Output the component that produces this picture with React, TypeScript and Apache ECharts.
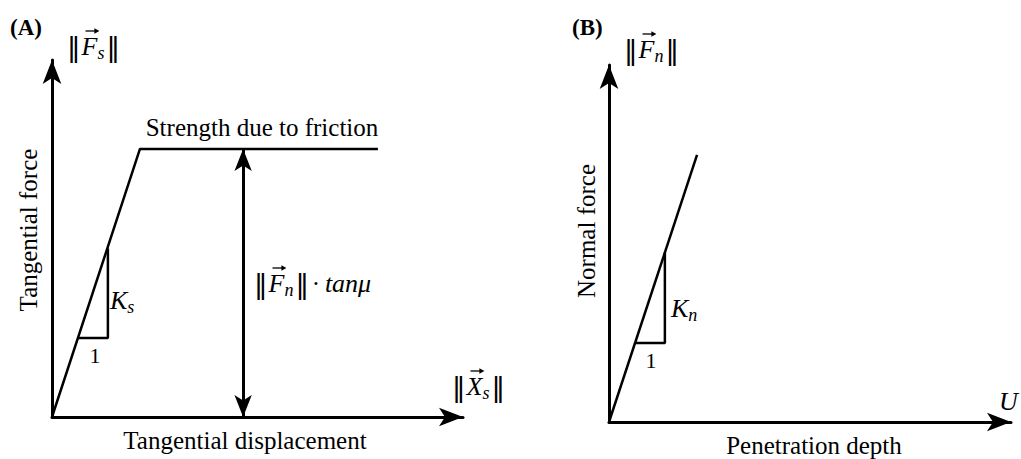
import React, { useEffect, useRef } from "react";
import * as echarts from "echarts";

// Panel A: tangential force vs tangential displacement (schematic units 0..10)
const curveA: number[][] = [[0, 0], [2.14, 7.51], [7.93, 7.51]];
const triangleA: number[][] = [[0.63, 2.21], [1.36, 2.21], [1.36, 4.72]];
const frictionArrowX = 4.65;
const frictionLevel = 7.51;

// Panel B: normal force vs penetration depth
const curveB: number[][] = [[0, 0], [2.19, 7.48]];
const triangleB: number[][] = [[0.67, 2.21], [1.39, 2.21], [1.39, 4.75]];

const axisMin = 0;
const axisMax = 10;

const SERIF = "'Liberation Serif', 'Times New Roman', serif";
const BAR_FONT = "27px 'DejaVu Sans', sans-serif";
const LETTER_FONT = "italic 26px 'Liberation Serif', serif";
const SUB_FONT = "italic 18px 'Liberation Serif', serif";
const PLAIN_MATH_FONT = "25px 'Liberation Serif', serif";

let measureCtx: CanvasRenderingContext2D | null = null;
function measure(text: string, font: string): number {
  if (!measureCtx) measureCtx = document.createElement("canvas").getContext("2d");
  if (!measureCtx) return text.length * 12;
  measureCtx.font = font;
  return measureCtx.measureText(text).width;
}

function axis(gridIndex: number) {
  return {
    gridIndex,
    type: "value",
    min: axisMin,
    max: axisMax,
    axisLine: {
      show: true,
      onZero: false,
      symbol: ["none", "arrow"],
      symbolSize: [14, 24],
      lineStyle: { color: "#000", width: 3 },
    },
    axisTick: { show: false },
    axisLabel: { show: false },
    splitLine: { show: false },
  };
}

function txt(text: string, x: number, y: number, font: string, align = "left", rotation = 0) {
  return {
    type: "text",
    x,
    y,
    rotation,
    silent: true,
    style: { text, font, fill: "#000", align, verticalAlign: "middle" },
  };
}

function vecArrow(x1: number, x2: number, y: number) {
  return [
    { type: "line", silent: true, shape: { x1, y1: y, x2: x2 - 3, y2: y }, style: { stroke: "#000", lineWidth: 1.3 } },
    {
      type: "polygon",
      silent: true,
      shape: { points: [[x2 + 1, y], [x2 - 4, y - 2.8], [x2 - 4, y + 2.8]] },
      style: { fill: "#000" },
    },
  ];
}

// ‖ v⃗_sub ‖ built from separate glyphs; returns elements and right edge
function normLabel(letter: string, sub: string, x: number, y: number) {
  const els: any[] = [];
  const wb = measure("‖", BAR_FONT);
  els.push(txt("‖", x, y, BAR_FONT));
  const lx = x + wb + 1;
  const wl = measure(letter, LETTER_FONT);
  els.push(txt(letter, lx, y, LETTER_FONT));
  els.push(...vecArrow(lx + 4, lx + wl + 1, y - 15));
  const sx = lx + wl;
  const ws = measure(sub, SUB_FONT);
  els.push(txt(sub, sx, y + 7, SUB_FONT));
  const bx = sx + ws + 2;
  els.push(txt("‖", bx, y, BAR_FONT));
  return { els, right: bx + wb };
}

function subLabel(letter: string, sub: string, x: number, y: number) {
  const wl = measure(letter, LETTER_FONT);
  return [txt(letter, x, y, LETTER_FONT), txt(sub, x + wl, y + 7, SUB_FONT)];
}

export default function App() {
  const ref = useRef<HTMLDivElement>(null);

  useEffect(() => {
    if (!ref.current) return;
    const chart = echarts.init(ref.current, undefined, { renderer: "svg" });
    const lineStyle = { color: "#000", width: 2.5 };

    const fsA = normLabel("F", "s", 67, 46);
    const fnB = normLabel("F", "n", 624, 49);
    const xsA = normLabel("X", "s", 452, 386);
    const fnA = normLabel("F", "n", 254, 283);
    const dotX = fnA.right + 3;
    const tanEls = [
      txt("·", dotX + 4, 283, PLAIN_MATH_FONT, "center"),
      txt("tanμ", dotX + 13, 283, LETTER_FONT),
    ];

    chart.setOption({
      animation: false,
      backgroundColor: "#fff",
      grid: [
        { left: 52, top: 60, width: 411, height: 357 },
        { left: 609, top: 65, width: 402, height: 357 },
      ],
      xAxis: [axis(0), axis(1)],
      yAxis: [axis(0), axis(1)],
      series: [
        { type: "line", xAxisIndex: 0, yAxisIndex: 0, data: curveA, symbol: "none", lineStyle, silent: true },
        { type: "line", xAxisIndex: 0, yAxisIndex: 0, data: triangleA, symbol: "none", lineStyle, silent: true },
        {
          type: "line",
          xAxisIndex: 0,
          yAxisIndex: 0,
          data: [],
          symbol: "none",
          silent: true,
          markLine: {
            silent: true,
            symbol: ["arrow", "arrow"],
            symbolSize: [13, 22],
            label: { show: false },
            lineStyle: { color: "#000", width: 3, type: "solid" },
            emphasis: { disabled: true },
            data: [[{ coord: [frictionArrowX, axisMin] }, { coord: [frictionArrowX, frictionLevel] }]],
          },
        },
        { type: "line", xAxisIndex: 1, yAxisIndex: 1, data: curveB, symbol: "none", lineStyle, silent: true },
        { type: "line", xAxisIndex: 1, yAxisIndex: 1, data: triangleB, symbol: "none", lineStyle, silent: true },
      ],
      graphic: [
        txt("(A)", 10, 27, `bold 23px ${SERIF}`),
        txt("(B)", 572, 27, `bold 23px ${SERIF}`),
        ...fsA.els,
        ...fnB.els,
        ...xsA.els,
        ...fnA.els,
        ...tanEls,
        ...subLabel("K", "s", 110, 300),
        ...subLabel("K", "n", 671, 308),
        txt("1", 95, 355, `22px ${SERIF}`, "center"),
        txt("1", 651, 360, `22px ${SERIF}`, "center"),
        txt("U", 999, 401, LETTER_FONT),
        txt("Strength due to friction", 262, 127, `25px ${SERIF}`, "center"),
        txt("Tangential displacement", 245, 440, `25px ${SERIF}`, "center"),
        txt("Penetration depth", 814, 445, `25px ${SERIF}`, "center"),
        txt("Tangential force", 28, 230, `25px ${SERIF}`, "center", Math.PI / 2),
        txt("Normal force", 586, 231, `25px ${SERIF}`, "center", Math.PI / 2),
      ],
    });
    return () => chart.dispose();
  }, []);

  return (
    <div
      ref={ref}
      style={{ position: "absolute", left: 0, top: 0, width: 1021, height: 459, background: "#fff" }}
    />
  );
}
